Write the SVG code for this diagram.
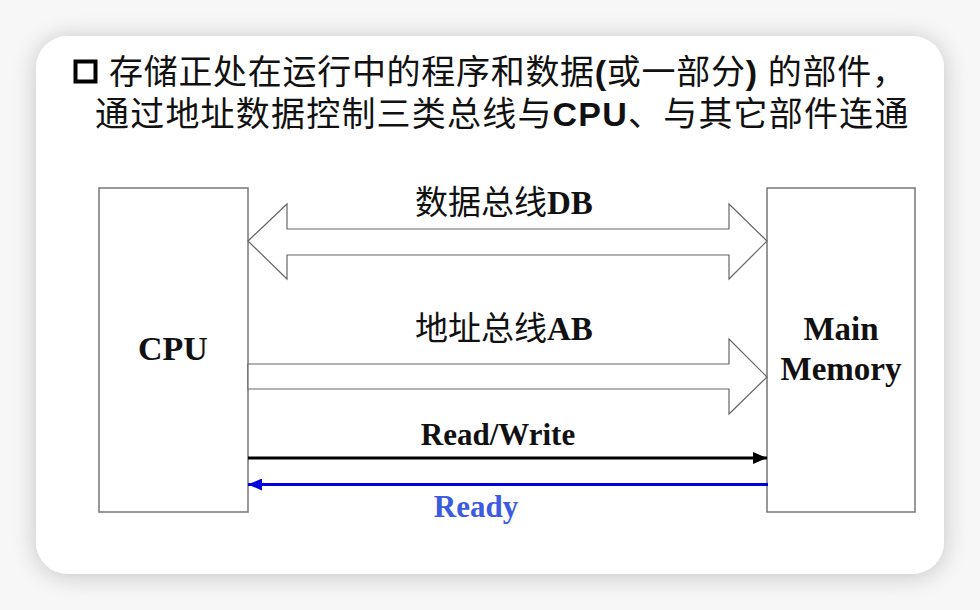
<svg xmlns="http://www.w3.org/2000/svg" width="980" height="610" viewBox="0 0 980 610">
  <defs>
    <filter id="shadow" x="-10%" y="-10%" width="120%" height="120%">
      <feGaussianBlur in="SourceAlpha" stdDeviation="12"/>
      <feOffset dx="0" dy="2" result="b"/>
      <feComponentTransfer><feFuncA type="linear" slope="0.22"/></feComponentTransfer>
      <feMerge><feMergeNode/><feMergeNode in="SourceGraphic"/></feMerge>
    </filter>
    <marker id="ahBlack" markerWidth="14" markerHeight="12" refX="14" refY="6" orient="auto" markerUnits="userSpaceOnUse">
      <path d="M0,0 L14,6 L0,12 Z" fill="#000"/>
    </marker>
    <marker id="ahBlue" markerWidth="14" markerHeight="12" refX="14" refY="6" orient="auto" markerUnits="userSpaceOnUse">
      <path d="M0,0 L14,6 L0,12 Z" fill="#0000e0"/>
    </marker>
  </defs>
  <style>
    .box { fill: #fff; stroke: #777; stroke-width: 1.5; }
    .bus { fill: #fff; stroke: #666; stroke-width: 1.2; }
    .cjk { font-family: "Noto Sans CJK SC", "Noto Sans", sans-serif; fill: #111; }
    .ser { font-family: "Liberation Serif", "Times New Roman", serif; font-weight: bold; fill: #111; }
    .head { font-family: "Liberation Sans", "Noto Sans CJK SC", sans-serif; font-size: 34px; fill: #111; }
    .lat { font-weight: bold; }
  </style>
  <rect x="0" y="0" width="980" height="610" fill="#f7f7f7"/>
  <rect x="36" y="36" width="908" height="538" rx="32" ry="32" fill="#fff" filter="url(#shadow)"/>

  <g id="header">
    <rect x="75.5" y="61.5" width="20" height="20" fill="none" stroke="#000" stroke-width="4"/>
    <text class="head" x="109" y="84" letter-spacing="0.7">存储正处在运行中的程序和数据<tspan class="lat">(</tspan>或一部分<tspan class="lat">)</tspan> 的部件，</text>
    <text class="head" x="95" y="126" letter-spacing="1.2">通过地址数据控制三类总线与<tspan class="lat">CPU</tspan>、与其它部件连通</text>
  </g>

  <g id="cpu">
    <rect class="box" x="99" y="188" width="149" height="324"/>
    <text class="ser" x="173" y="360" font-size="34" text-anchor="middle">CPU</text>
  </g>

  <g id="memory">
    <rect class="box" x="767" y="188" width="148" height="324"/>
    <text class="ser" x="841" y="340" font-size="33" text-anchor="middle">Main</text>
    <text class="ser" x="841" y="380" font-size="33" text-anchor="middle">Memory</text>
  </g>

  <g id="connectors">
    <polygon id="data-bus" class="bus" points="248,241 287,204 287,229 729,229 729,204 767,241 729,279 729,255 287,255 287,279"/>
    <polygon id="address-bus" class="bus" points="248,364 729,364 729,339 767,377 729,414 729,389 248,389"/>
    <line id="read-write" x1="248" y1="458" x2="767" y2="458" stroke="#000" stroke-width="3" marker-end="url(#ahBlack)"/>
    <line id="ready" x1="768" y1="484.5" x2="248" y2="484.5" stroke="#0000e0" stroke-width="3" marker-end="url(#ahBlue)"/>
  </g>

  <g id="labels">
    <text x="415" y="214" font-size="33"><tspan class="cjk">数据总线</tspan><tspan class="ser">DB</tspan></text>
    <text x="415" y="340" font-size="33"><tspan class="cjk">地址总线</tspan><tspan class="ser">AB</tspan></text>
    <text class="ser" x="498" y="445" font-size="31" text-anchor="middle">Read/Write</text>
    <text class="ser" x="476" y="517" font-size="31" text-anchor="middle" style="fill:#3b5ce0">Ready</text>
  </g>
</svg>
